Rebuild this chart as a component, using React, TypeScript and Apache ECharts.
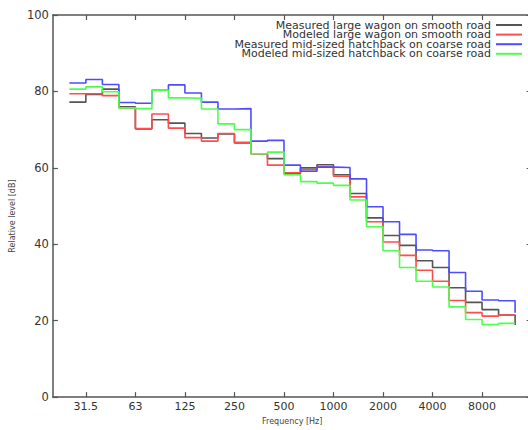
import React, { useEffect, useRef } from "react";
import * as echarts from "echarts";

// Third-octave band frequencies (Hz)
const bandFreqs = [25, 31.5, 40, 50, 63, 80, 100, 125, 160, 200, 250, 315, 400, 500, 630, 800, 1000, 1250, 1600, 2000, 2500, 3150, 4000, 5000, 6300, 8000, 10000, 12500];

const measuredWagon = [77.2, 79.2, 80.6, 76.0, 70.2, 72.6, 71.7, 69.0, 67.8, 68.9, 66.5, 63.7, 62.4, 58.5, 60.0, 60.8, 58.2, 53.3, 46.9, 42.3, 39.7, 35.7, 33.9, 28.6, 24.8, 22.9, 21.5, 18.9];
const modeledWagon = [79.4, 79.4, 78.9, 75.7, 70.3, 74.1, 70.4, 67.9, 67.0, 69.0, 66.7, 63.7, 60.7, 58.7, 59.5, 60.3, 57.8, 52.4, 45.9, 40.6, 37.1, 33.2, 30.3, 25.3, 22.1, 21.2, 21.5, 21.5];
const measuredHatch = [82.2, 83.1, 81.8, 77.1, 76.9, 80.3, 81.7, 79.6, 77.2, 75.4, 75.5, 67.0, 67.2, 60.7, 59.1, 60.2, 60.1, 57.1, 49.8, 45.9, 42.6, 38.5, 38.3, 32.6, 27.7, 25.4, 25.2, 22.1];
const modeledHatch = [80.6, 81.2, 79.9, 75.7, 75.5, 80.3, 78.3, 78.2, 75.4, 71.5, 70.0, 63.7, 64.1, 58.2, 56.4, 56.0, 55.4, 51.6, 44.6, 38.3, 33.9, 30.3, 28.8, 23.6, 20.3, 19.0, 19.3, 19.3];

const seriesNames = [
  "Measured large wagon on smooth road",
  "Modeled large wagon on smooth road",
  "Measured mid-sized hatchback on coarse road",
  "Modeled mid-sized hatchback on coarse road",
];
const seriesColors = ["#555555", "#ff4d4d", "#4d4dff", "#4dff4d"];

const tickFreqs = [31.5, 63, 125, 250, 500, 1000, 2000, 4000, 8000];
const tickLabels = ["31.5", "63", "125", "250", "500", "1000", "2000", "4000", "8000"];

const yTicks = [0, 20, 40, 60, 80, 100];

const FONT = "DejaVu Sans";

// third-octave index relative to 1 kHz
const toX = (f: number) => Math.round(3 * Math.log2(f / 1000));

export default function App() {
  const ref = useRef<HTMLDivElement>(null);

  useEffect(() => {
    if (!ref.current) return;
    const chart = echarts.init(ref.current, undefined, { renderer: "svg" });
    const tickX = tickFreqs.map(toX);
    const labelMap: Record<string, string> = {};
    tickX.forEach((x, i) => (labelMap[String(x)] = tickLabels[i]));
    const allSeries = [measuredWagon, modeledWagon, measuredHatch, modeledHatch];

    const axisLine = { show: true, onZero: false, lineStyle: { color: "#555", width: 1.5 } };
    const tickStyle = { color: "#555", width: 1.2 };

    chart.setOption({
      animation: false,
      backgroundColor: "#fff",
      textStyle: { fontFamily: FONT },
      grid: { left: 42.25, right: 8.4, top: 15, bottom: 30, containLabel: false },
      legend: {
        data: seriesNames,
        orient: "vertical",
        align: "right",
        right: 18,
        top: 19.5,
        padding: 0,
        itemGap: -1.4,
        itemWidth: 26,
        itemHeight: 2,
        icon: "rect",
        selectedMode: false,
        textStyle: { fontFamily: FONT, fontSize: 11, color: "#333", lineHeight: 9.67 },
      },
      xAxis: [
        {
          type: "value",
          min: toX(20),
          max: toX(16000),
          position: "bottom",
          name: "Frequency [Hz]",
          nameLocation: "middle",
          nameGap: 19,
          nameTextStyle: { fontFamily: FONT, fontSize: 8, color: "#444" },
          axisLine,
          splitLine: { show: false },
          axisTick: { show: true, inside: true, length: 5, customValues: tickX, lineStyle: tickStyle },
          axisLabel: {
            show: true,
            customValues: tickX,
            margin: 4,
            fontFamily: FONT,
            fontSize: 11,
            color: "#333",
            formatter: (v: number) => labelMap[String(Math.round(v))] ?? "",
          },
        },
        {
          type: "value",
          min: toX(20),
          max: toX(16000),
          position: "top",
          axisLine,
          splitLine: { show: false },
          axisTick: { show: true, inside: true, length: 5, customValues: tickX, lineStyle: tickStyle },
          axisLabel: { show: false },
        },
      ],
      yAxis: [
        {
          type: "value",
          min: 0,
          max: 100,
          interval: 20,
          position: "left",
          name: "Relative level [dB]",
          nameLocation: "middle",
          nameRotate: 90,
          nameGap: 26,
          nameTextStyle: { fontFamily: FONT, fontSize: 8, color: "#444", padding: [0, 20, 0, 0] },
          axisLine,
          splitLine: { show: false },
          axisTick: { show: true, inside: true, length: 5, customValues: yTicks, lineStyle: tickStyle },
          axisLabel: { margin: 4, fontFamily: FONT, fontSize: 11.5, color: "#333", customValues: yTicks },
        },
        {
          type: "value",
          min: 0,
          max: 100,
          interval: 20,
          position: "right",
          axisLine,
          splitLine: { show: false },
          axisTick: { show: true, inside: true, length: 5, lineStyle: tickStyle },
          axisLabel: { show: false },
        },
      ],
      series: allSeries.map((vals, si) => ({
        name: seriesNames[si],
        type: "line",
        step: "end",
        xAxisIndex: 0,
        yAxisIndex: 0,
        symbol: "none",
        showSymbol: false,
        color: seriesColors[si],
        lineStyle: { color: seriesColors[si], width: 1.6 },
        data: vals.map((v, i) => [toX(bandFreqs[i]), v]),
        z: 2 + si,
      })),
    });

    return () => chart.dispose();
  }, []);

  return (
    <div style={{ position: "fixed", left: 0, top: 0, width: 528, height: 430, overflow: "hidden", background: "#fff" }}>
      <div ref={ref} style={{ width: 540, height: 430 }} />
    </div>
  );
}
